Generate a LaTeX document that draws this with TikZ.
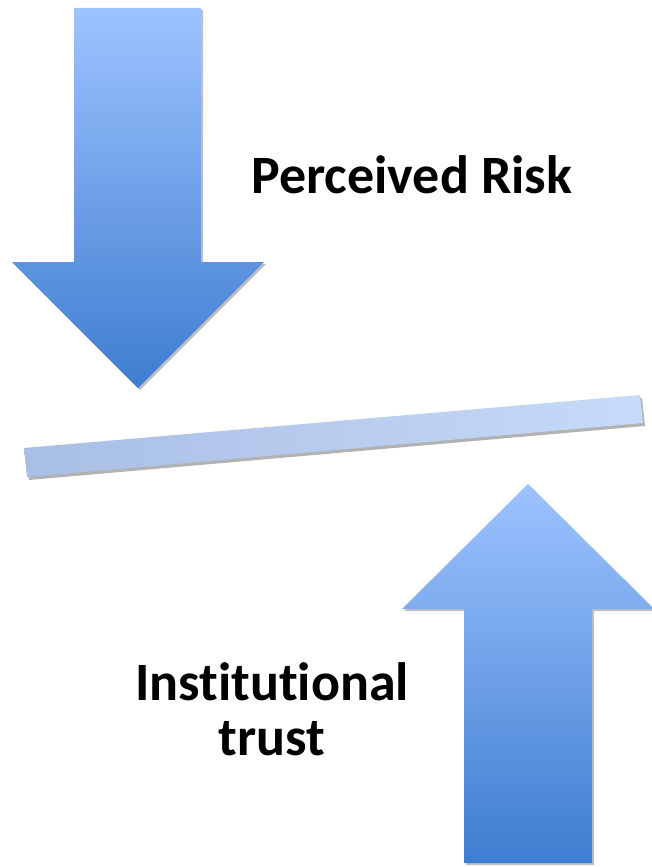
\documentclass[tikz,border=0pt]{standalone}
\usepackage{fontspec}
\setmainfont[Ligatures=CommonOff]{Carlito}
\usepackage{tikz}
\usetikzlibrary{shadows}
\definecolor{pfeilhell}{RGB}{157,195,255}
\definecolor{pfeildunkel}{RGB}{62,125,208}
\definecolor{balkenhell}{RGB}{199,218,249}
\definecolor{balkendunkel}{RGB}{168,190,228}

\begin{document}
\begin{tikzpicture}[x=1pt, y=-1pt]
% Stile
\tikzset{pfeil/.style={top color=pfeilhell, bottom color=pfeildunkel, draw=none,
           drop shadow={shadow xshift=2pt, shadow yshift=-2pt, opacity=0.25, fill=black}},
         balken/.style={left color=balkendunkel, right color=balkenhell, draw=none,
           drop shadow={shadow xshift=2pt, shadow yshift=-3pt, opacity=0.3, fill=black}},
         beschriftung/.style={font=\fontsize{54}{57}\selectfont\bfseries, align=center, inner sep=0pt}}

\useasboundingbox (0,0) rectangle (652,867);

% Pfeil nach unten
\path[pfeil] (74,8) -- (201,8) -- (201,262) -- (264,262) -- (138,388)
      -- (12,262) -- (74,262) -- cycle;

% Balken
\path[balken] (24,448) -- (640,395) -- (643,423) -- (27,477) -- cycle;

% Pfeil nach oben
\path[pfeil] (528,484) -- (654,609) -- (592,609) -- (592,863)
      -- (464,863) -- (464,609) -- (402,609) -- cycle;

% Texte
\node[beschriftung, anchor=base] (risk) at (412,193) {Perceived Risk};
\node[beschriftung, anchor=base] (trust1) at (272,700) {Institutional};
\node[beschriftung, anchor=base] (trust2) at (272,755) {trust};
\end{tikzpicture}
\end{document}
